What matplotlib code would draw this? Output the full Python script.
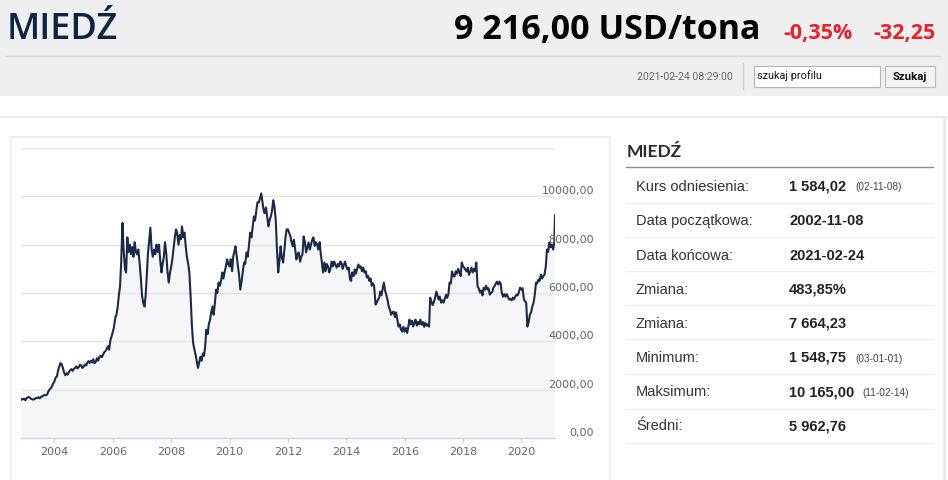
import pandas as pd
import matplotlib
matplotlib.use('Agg')
import matplotlib.pyplot as plt
import matplotlib.transforms as mtrans
from matplotlib.patches import Rectangle
from matplotlib.lines import Line2D

# copper price USD/t: values on the 1st and 15th of each month
p2002 = [1584, 1620, 1600, 1630]
p2003 = [1560, 1650, 1680, 1700, 1660, 1620, 1600, 1590, 1620, 1660, 1650, 1690,
         1640, 1700, 1720, 1760, 1780, 1770, 1800, 1920, 2010, 2060, 2150, 2250]
p2004 = [2350, 2500, 2550, 2800, 2950, 3100, 3050, 2900, 2700, 2600, 2680, 2620,
         2750, 2800, 2850, 2780, 2870, 2900, 2960, 2880, 2940, 3030, 3000, 2900]
p2005 = [2960, 3040, 3000, 3120, 3180, 3100, 3200, 3120, 3260, 3090, 3150, 3300,
         3200, 3350, 3400, 3340, 3450, 3550, 3600, 3680, 3800, 3650, 4050, 4200]
p2006 = [4400, 4600, 5000, 5100, 5400, 5850, 6300, 7300, 8900, 7800, 7000, 6850,
         8300, 7700, 8000, 7600, 7900, 7500, 8100, 7700, 7600, 7800, 7260, 6700]
p2007 = [5900, 5600, 5440, 5900, 6700, 7600, 8200, 8700, 7800, 7500, 7800, 7600,
         8000, 7700, 8000, 7400, 6850, 7200, 7500, 8100, 7600, 6900, 6430, 6800]
p2008 = [7100, 7400, 7900, 8300, 8630, 8500, 8000, 8400, 8220, 8750, 8300, 8500,
         7930, 7500, 7200, 6850, 5800, 4700, 3940, 3700, 3450, 3200, 2900, 3100]
p2009 = [3360, 3200, 3500, 3400, 3800, 4480, 4300, 4700, 4900, 5200, 5440, 5100,
         5600, 6140, 6000, 6430, 6300, 6500, 6850, 6600, 6900, 7100, 7390, 7200]
p2010 = [7100, 7400, 6900, 7510, 7700, 7930, 7500, 7100, 6700, 6140, 6500, 6900,
         7260, 7200, 7680, 7500, 8000, 8500, 8300, 8700, 9170, 9000, 9400, 9750]
p2011 = [9750, 9900, 10120, 9800, 9460, 9300, 9540, 9200, 8760, 9000, 9170, 9400,
         9840, 9600, 9040, 7900, 6850, 7300, 7930, 7500, 7260, 7700, 8300, 8630]
p2012 = [8630, 8500, 8340, 8100, 7930, 8200, 7800, 7390, 7600, 7680, 7300, 7500,
         7600, 8340, 8100, 7680, 7900, 8090, 7800, 8000, 8220, 8300, 7950, 8100]
p2013 = [8000, 7800, 8100, 7600, 7260, 6850, 7260, 6900, 7200, 7100, 6850, 7000,
         7300, 7100, 7300, 7180, 7050, 7200, 7100, 7300, 7250, 7000, 7150, 7300]
p2014 = [7100, 6970, 7050, 6560, 6500, 6850, 6700, 6970, 6800, 7000, 7180, 7050,
         7100, 6900, 7050, 6850, 6900, 6640, 6700, 6500, 6600, 6300, 6400, 6270]
p2015 = [5520, 5600, 5730, 5800, 6060, 5900, 6200, 6430, 6100, 5930, 5700, 5440,
         5300, 5100, 5200, 5230, 5000, 5200, 4900, 4610, 4700, 4500, 4400, 4600]
p2016 = [4400, 4550, 4350, 4600, 4900, 4700, 4850, 4610, 4750, 4900, 4650, 4800,
         4700, 4900, 4690, 4800, 4600, 4770, 4650, 4700, 4610, 5810, 5640, 5500]
p2017 = [5640, 5800, 6060, 5900, 5730, 5850, 5600, 5700, 5600, 5750, 5930, 5800,
         5950, 6430, 6400, 6890, 6700, 6680, 6900, 6800, 7000, 6850, 6700, 7260]
p2018 = [7100, 7050, 6950, 6890, 7050, 6750, 6900, 7050, 6850, 7000, 6900, 7260,
         6270, 6200, 6020, 6100, 5900, 6220, 6140, 6300, 6140, 6200, 5930, 6000]
p2019 = [6050, 6220, 6300, 6400, 6470, 6350, 6470, 6400, 6000, 5850, 5950, 5850,
         5950, 5850, 5730, 5750, 5700, 5810, 5750, 5850, 5930, 5900, 6050, 6220]
p2020 = [6140, 6200, 5730, 5650, 5600, 4610, 4800, 5100, 5200, 5440, 5600, 5900,
         6430, 6400, 6560, 6500, 6760, 6600, 6700, 6760, 7100, 7800, 7700, 8090]
p2021 = [7900, 8000, 7800, 8100]
first_day = '2002-11-08'
last_day, last_price = '2021-02-24', 9216

y_ticks = [0, 2000, 4000, 6000, 8000, 10000, 12000]
y_labels = ['0,00', '2000,00', '4000,00', '6000,00', '8000,00', '10000,00', '']
x_years = [2004, 2006, 2008, 2010, 2012, 2014, 2016, 2018, 2020]

stat_labels = ['Kurs odniesienia:', 'Data początkowa:', 'Data końcowa:', 'Zmiana:',
               'Zmiana:', 'Minimum:', 'Maksimum:', 'Średni:']
stat_values = ['1 584,02', '2002-11-08', '2021-02-24', '483,85%',
               '7 664,23', '1 548,75', '10 165,00', '5 962,76']
stat_notes = ['(02-11-08)', '', '', '', '', '(03-01-01)', '(11-02-14)', '']

price_txt = '9 216,00 USD/tona'
change_pct, change_abs = '-0,35%', '-32,25'
stamp = '2021-02-24 08:29:00'

# build the series
prices = (p2002 + p2003 + p2004 + p2005 + p2006 + p2007 + p2008 + p2009 + p2010 +
          p2011 + p2012 + p2013 + p2014 + p2015 + p2016 + p2017 + p2018 + p2019 +
          p2020 + p2021 + [last_price])
dates = list(pd.date_range('2002-11-01', '2021-02-15', freq='SMS'))
dates[0] = pd.Timestamp(first_day)
dates.append(pd.Timestamp(last_day))
assert len(dates) == len(prices)
copper = pd.Series(prices, index=pd.DatetimeIndex(dates))

W, H = 948, 480
fig = plt.figure(figsize=(W / 100, H / 100), dpi=100)
fig.patch.set_facecolor('white')


def fx(x):
    return x / W


def fy(y):
    return 1 - y / H


def box(x0, y0, x1, y1, fc='none', ec='none', lw=1, z=0):
    fig.add_artist(Rectangle((fx(x0), fy(y1)), fx(x1) - fx(x0), fy(y0) - fy(y1),
                             transform=fig.transFigure, facecolor=fc,
                             edgecolor=ec, linewidth=lw, zorder=z))


def hline(x0, x1, y, color, lw=1):
    fig.add_artist(Line2D([fx(x0), fx(x1)], [fy(y), fy(y)],
                          transform=fig.transFigure, color=color, lw=lw))


def vline(x, y0, y1, color, lw=1):
    fig.add_artist(Line2D([fx(x), fx(x)], [fy(y0), fy(y1)],
                          transform=fig.transFigure, color=color, lw=lw))


# header band
box(0, 0, W, 96, fc='#efefef')
hline(5, 940, 55.5, '#d9d9d9')
hline(0, W, 116.5, '#e9e9e9', lw=1.5)
fig.text(fx(7), fy(39), 'MIEDŹ', fontsize=26, family='Open Sans',
         weight='semibold', color='#0e2444', va='baseline')
fig.text(fx(760), fy(39), price_txt, fontsize=24.5, family='Open Sans',
         weight='bold', color='black', va='baseline', ha='right')
fig.text(fx(853), fy(39), change_pct, fontsize=15.5, family='Open Sans',
         weight='bold', color='#e8212c', va='baseline', ha='right')
fig.text(fx(936), fy(39), change_abs, fontsize=15.5, family='Open Sans',
         weight='bold', color='#e8212c', va='baseline', ha='right')
fig.text(fx(733), fy(76.5), stamp, fontsize=7.6, family='Roboto',
         color='#666666', va='center', ha='right')
vline(742.5, 63, 89, '#d0d0d0')
box(754, 66, 880, 87, fc='white', ec='#b5b5b5', lw=0.8, z=1)
fig.text(fx(757), fy(75.5), 'szukaj profilu', fontsize=7.8, family='Roboto',
         color='#111111', va='center')
box(885, 66, 935, 87, fc='#f3f3f3', ec='#bcbcbc', lw=0.8, z=1)
fig.text(fx(910), fy(76.5), 'Szukaj', fontsize=8.2, family='Roboto',
         weight='bold', color='#111111', va='center', ha='center')

# chart panel
box(10.5, 137.5, 609.5, 490, ec='#ececec', lw=1.2)
ax = fig.add_axes([fx(21), fy(438), fx(555) - fx(21), fy(148) - fy(438)])
ax.set_facecolor('white')
ax.fill_between(copper.index, copper.values, 0, color='#f5f6f8', lw=0, zorder=1)
ax.plot(copper.index, copper.values, color='#1b2a49', lw=1.5, zorder=3)
ax.set_xlim(copper.index[0], copper.index[-1])
ax.set_ylim(0, 12000)
ax.set_yticks(y_ticks)
ax.yaxis.grid(True, color='#e3e3e3', lw=1.0, zorder=2)
ax.tick_params(axis='y', length=0, labelleft=False)
for s in ['top', 'left', 'right']:
    ax.spines[s].set_visible(False)
ax.spines['bottom'].set_color('#ccd6eb')
ax.spines['bottom'].set_linewidth(1.0)
ax.spines['bottom'].set_zorder(4)
ax.set_xticks([pd.Timestamp(f'{y}-01-01') for y in x_years])
ax.set_xticklabels([str(y) for y in x_years])
ax.tick_params(axis='x', length=3.6, width=0.8, color='#ccd6eb', pad=3,
               labelsize=8, labelcolor='#666666')
lab_tr = mtrans.blended_transform_factory(ax.transAxes, ax.transData)
for v, lab in zip(y_ticks, y_labels):
    ax.text((594 - 21) / 534, v, lab, transform=lab_tr, ha='right',
            va='bottom', fontsize=8, color='#666666', clip_on=False)

# statistics table
vline(944, 117, H, '#e9e9e9', lw=2)
fig.text(fx(627), fy(157), 'MIEDŹ', fontsize=12.5, family='Lato', weight='bold',
         color='#2a2a2a', va='baseline')
hline(626, 933, 167.5, '#8c8c8c')
row_y = [185, 220, 254, 288.5, 322, 356.5, 391, 425]
sep_y = [203, 237, 271, 304.5, 338.5, 373.5, 408.5, 442.5]
for i, lab in enumerate(stat_labels):
    fig.text(fx(636), fy(row_y[i]), lab, fontsize=10.5, family='Liberation Sans',
             color='#333333', va='center_baseline')
    fig.text(fx(789), fy(row_y[i]), stat_values[i], fontsize=10.5,
             family='Liberation Sans', weight='bold', color='#222222',
             va='center_baseline')
    if stat_notes[i]:
        xn = 862 if len(stat_values[i]) > 8 else 855
        fig.text(fx(xn), fy(row_y[i] + 1), stat_notes[i], fontsize=7.2,
                 family='Liberation Sans', color='#444444', va='center_baseline')
    hline(626, 933, sep_y[i], '#eeeeee')

fig.savefig('out.png', dpi=100, facecolor='white')
